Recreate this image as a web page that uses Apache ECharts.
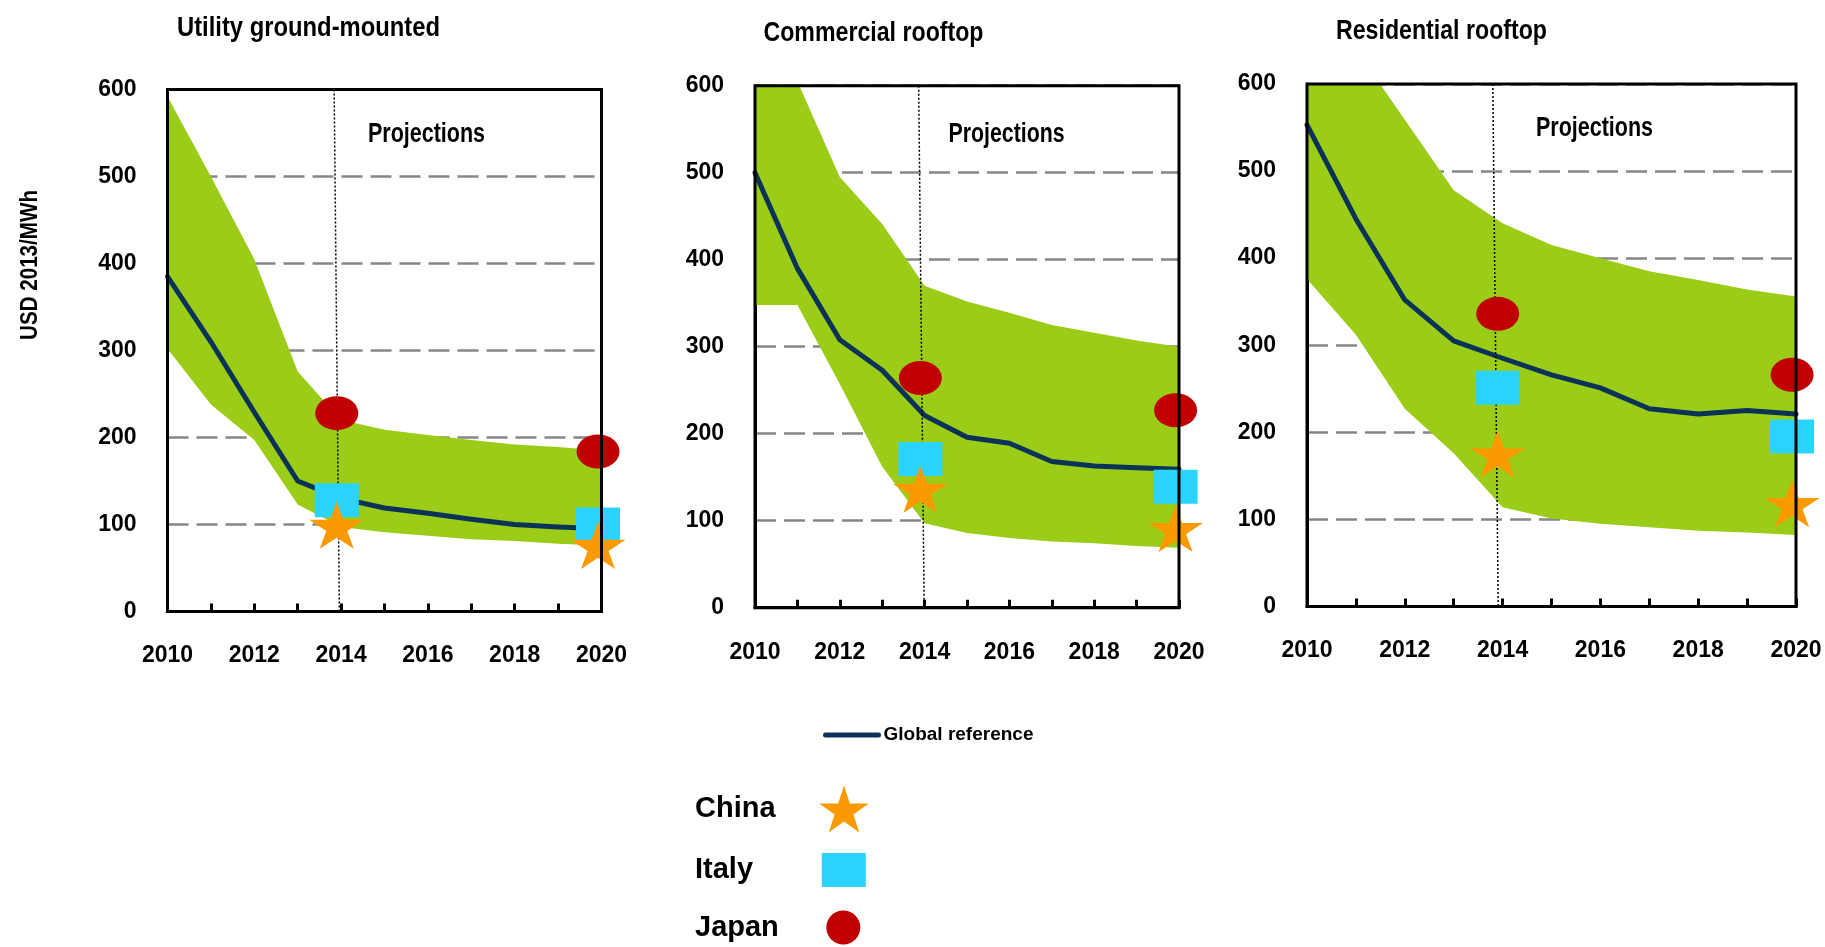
<!DOCTYPE html>
<html>
<head>
<meta charset="utf-8">
<title>Solar PV LCOE by segment</title>
<script src="https://cdn.jsdelivr.net/npm/echarts@6/dist/echarts.min.js"></script>
<style>
  html, body { margin: 0; padding: 0; background: #ffffff; }
  #chart { width: 1825px; height: 947px; }
</style>
</head>
<body>
<div id="chart"></div>
<script>
// ---- data (USD 2013/MWh) ----
const years = [2010, 2011, 2012, 2013, 2014, 2015, 2016, 2017, 2018, 2019, 2020];
const panelTitles = ['Utility ground-mounted', 'Commercial rooftop', 'Residential rooftop'];
const yTicks = [0, 100, 200, 300, 400, 500, 600];

const utilityRef  = [385, 310, 229, 150, 130, 119, 113, 106, 100, 97, 95];
const utilityHigh = [592, 500, 405, 276, 220, 209, 203, 197, 192, 189, 185];
const utilityLow  = [302, 238, 197, 123, 97, 91, 87, 83, 81, 78, 76];

const commercialRef  = [500, 390, 308, 273, 221, 196, 189, 168, 163, 161, 159];
const commercialHigh = [650, 605, 495, 441, 370, 352, 339, 325, 316, 307, 300];
const commercialLow  = [348, 348, 257, 162, 97, 86, 80, 76, 74, 71, 69];

const residentialRef  = [553, 445, 352, 305, 285, 266, 251, 227, 221, 225, 221];
const residentialHigh = [700, 640, 559, 478, 440, 415, 400, 385, 375, 364, 356];
const residentialLow  = [376, 312, 227, 176, 114, 101, 95, 91, 87, 85, 82];

// country observations: 2014 and 2020
const countryYears = [2013.9, 2019.92];
const chinaUtility = [99, 76],   chinaCommercial = [136, 91],  chinaResidential = [175, 118];
const italyUtility = [128, 100], italyCommercial = [171, 139], italyResidential = [251, 195];
const japanUtility = [228, 184], japanCommercial = [264, 227], japanResidential = [336, 266];

// start of projections (top and bottom ends of the divider)
const projectionStart = [[2013.84, 2013.96], [2013.86, 2013.99], [2013.80, 2013.91]];

// ---- styling ----
const FONT = "'Liberation Sans', Arial, sans-serif";
const GREEN = '#9BCC18';
const NAVY = '#0B3357';
const RED = '#C00000';
const CYAN = '#2BD3FD';
const ORANGE = '#FB9A00';
const DASH_GRAY = '#878787';
const STAR = 'path://M100,0 L122.45,69.1 L195.1,69.1 L136.3,111.8 L158.8,180.9 L100,138.2 L41.2,180.9 L63.7,111.8 L4.9,69.1 L77.55,69.1 Z';
const ELLIPSE = 'path://M0,50 A50,50 0 1,1 100,50 A50,50 0 1,1 0,50 Z';

const grids = [
  { left: 167.5, top: 89.5, width: 434, height: 522 },
  { left: 755, top: 85.7, width: 424, height: 522 },
  { left: 1307, top: 84, width: 489, height: 522.4 }
];

const panels = [
  { ref: utilityRef, high: utilityHigh, low: utilityLow, china: chinaUtility, italy: italyUtility, japan: japanUtility },
  { ref: commercialRef, high: commercialHigh, low: commercialLow, china: chinaCommercial, italy: italyCommercial, japan: japanCommercial },
  { ref: residentialRef, high: residentialHigh, low: residentialLow, china: chinaResidential, italy: italyResidential, japan: japanResidential }
];

const xAxes = [];
const yAxes = [];
const series = [];

panels.forEach(function (p, i) {
  // visible year axis (ticks every year, labels every other year)
  xAxes.push({
    type: 'value', gridIndex: i, min: 2010, max: 2020, interval: 1, z: 10,
    axisLine: { show: true, lineStyle: { color: '#000', width: 3 } },
    axisTick: { show: true, inside: true, length: 8, lineStyle: { color: '#000', width: 3 } },
    axisLabel: {
      margin: 33, color: '#000', fontSize: 23, fontWeight: 'bold', fontFamily: FONT,
      formatter: function (v) { return v % 2 === 0 ? String(v) : ''; }
    },
    splitLine: { show: false }
  });
  // dashed gridlines sit underneath the range band
  yAxes.push({
    type: 'value', gridIndex: i, min: yTicks[0], max: yTicks[yTicks.length - 1], interval: 100, z: 1,
    axisLine: { show: true, lineStyle: { color: '#000', width: 3 } },
    axisTick: { show: false },
    axisLabel: { margin: 31, color: '#000', fontSize: 23, fontWeight: 'bold', fontFamily: FONT },
    splitLine: { show: true, lineStyle: { color: DASH_GRAY, width: 2.5, type: [21, 8] } }
  });
});
// hidden category axes used by the stacked range band
panels.forEach(function (p, i) {
  xAxes.push({
    type: 'category', gridIndex: i, data: years.map(String), boundaryGap: false, show: false
  });
});

panels.forEach(function (p, i) {
  const catAxis = 3 + i;
  series.push({
    name: 'range-low-' + i, type: 'line', xAxisIndex: catAxis, yAxisIndex: i,
    stack: 'range' + i, data: p.low, symbol: 'none', silent: true, z: 2,
    lineStyle: { opacity: 0 }
  });
  series.push({
    name: 'range-' + i, type: 'line', xAxisIndex: catAxis, yAxisIndex: i,
    stack: 'range' + i, data: p.high.map(function (v, k) { return v - p.low[k]; }),
    symbol: 'none', silent: true, z: 2,
    lineStyle: { opacity: 0 },
    areaStyle: { color: GREEN, opacity: 1 }
  });
  series.push({
    name: 'Global reference', type: 'line', xAxisIndex: i, yAxisIndex: i,
    data: years.map(function (y, k) { return [y, p.ref[k]]; }),
    symbol: 'none', z: 3,
    lineStyle: { color: NAVY, width: 5, cap: 'round', join: 'round' },
    itemStyle: { color: NAVY },
    markLine: {
      silent: true, symbol: 'none', label: { show: false },
      lineStyle: { color: '#000', width: 1.5, type: [2, 2] },
      data: [[
        { coord: [projectionStart[i][0], yTicks[yTicks.length - 1]] },
        { coord: [projectionStart[i][1], yTicks[0]] }
      ]]
    }
  });
  series.push({
    name: 'Japan', type: 'scatter', xAxisIndex: i, yAxisIndex: i, clip: false, z: 5,
    symbol: ELLIPSE, symbolSize: [43, 34], itemStyle: { color: RED, opacity: 1 },
    data: countryYears.map(function (y, k) { return [y, p.japan[k]]; })
  });
  series.push({
    name: 'Italy', type: 'scatter', xAxisIndex: i, yAxisIndex: i, clip: false, z: 6,
    symbol: 'rect', symbolSize: [44, 34], itemStyle: { color: CYAN, opacity: 1 },
    data: countryYears.map(function (y, k) { return [y, p.italy[k]]; })
  });
  series.push({
    name: 'China', type: 'scatter', xAxisIndex: i, yAxisIndex: i, clip: false, z: 7,
    symbol: STAR, symbolSize: [55, 47], itemStyle: { color: ORANGE, opacity: 1 },
    data: countryYears.map(function (y, k) { return [y, p.china[k]]; })
  });
});

function countryLegend(name, icon, w, h, top, textWidth) {
  return {
    data: [{ name: name, icon: icon }],
    orient: 'vertical', align: 'right', left: 695, top: top, padding: 0,
    itemWidth: w, itemHeight: h, selectedMode: false,
    formatter: '{t|{name}}',
    textStyle: {
      rich: { t: { width: textWidth, align: 'left', fontSize: 29, lineHeight: 30, fontWeight: 'bold', fontFamily: FONT, color: '#000' } }
    }
  };
}

// condensed headings: scale horizontally to the set width
const measureCtx = document.createElement('canvas').getContext('2d');
function heading(text, x, y, size, width, extra) {
  measureCtx.font = 'bold ' + size + 'px ' + FONT;
  const sx = width / measureCtx.measureText(text).width;
  return Object.assign({
    type: 'text', x: x, y: y, scaleX: sx, silent: true,
    style: { text: text, fill: '#000', fontFamily: FONT, fontWeight: 'bold', fontSize: size,
             align: 'left', verticalAlign: 'middle' }
  }, extra || {});
}

const yTitle = heading('USD 2013/MWh', 31, 265, 23, 150, { rotation: Math.PI / 2 });
yTitle.style.align = 'center';

const option = {
  animation: false,
  backgroundColor: '#ffffff',
  grid: grids.map(function (g) {
    return Object.assign({ show: true, borderColor: '#000', borderWidth: 3, backgroundColor: 'transparent', z: 8 }, g);
  }),
  xAxis: xAxes,
  yAxis: yAxes,
  series: series,
  legend: [
    {
      data: ['Global reference'], left: 823, top: 725, padding: 0,
      itemWidth: 53, itemHeight: 5, selectedMode: false,
      lineStyle: { width: 5, cap: 'round' },
      textStyle: { fontSize: 19, lineHeight: 20, fontWeight: 'bold', fontFamily: FONT, color: '#000' }
    },
    countryLegend('China', STAR, 55, 47, 785.5, 116.5),
    countryLegend('Italy', 'rect', 44, 34, 853, 121.8),
    countryLegend('Japan', ELLIPSE, 43, 34, 910.5, 121.8)
  ],
  graphic: [
    heading(panelTitles[0], 177, 28, 28, 263),
    heading(panelTitles[1], 763.5, 32.8, 28, 220),
    heading(panelTitles[2], 1336, 31.5, 28, 211),
    heading('Projections', 368, 134, 28, 117),
    heading('Projections', 948.6, 134, 28, 116),
    heading('Projections', 1536, 128.2, 28, 117),
    yTitle
  ]
};

const chart = echarts.init(document.getElementById('chart'), null, { renderer: 'canvas' });
chart.setOption(option);
</script>
</body>
</html>
